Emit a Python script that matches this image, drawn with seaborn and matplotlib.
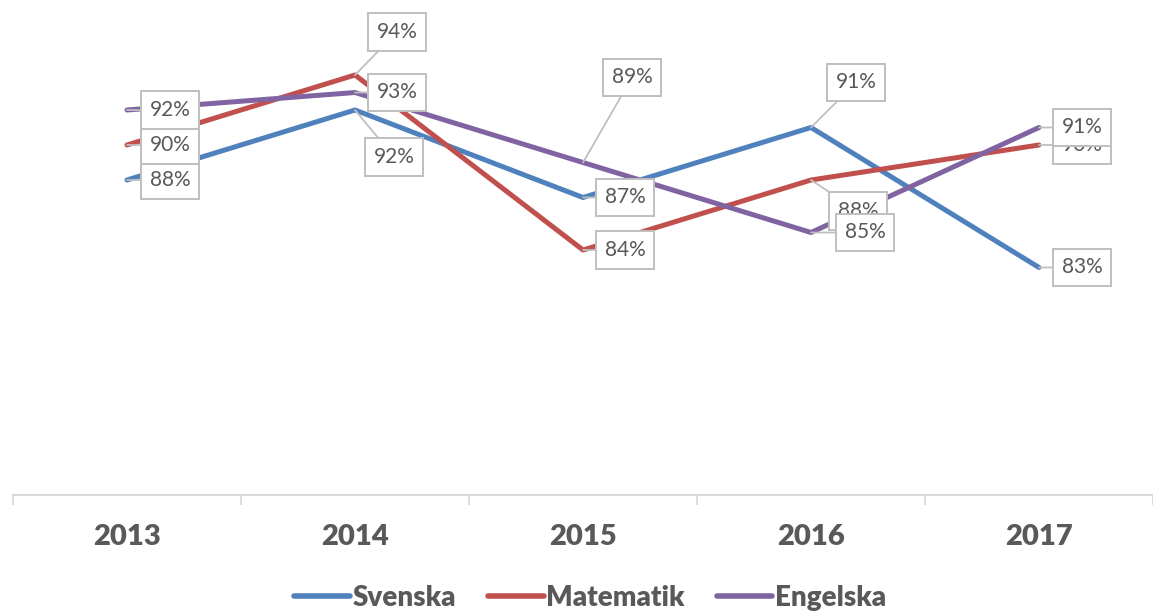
import matplotlib
matplotlib.use('Agg')
import matplotlib.pyplot as plt
import seaborn as sns
import pandas as pd

sns.set_theme(style="white")
plt.rcParams['font.family'] = ['Lato', 'DejaVu Sans']

# --- data ---
years = ["2013", "2014", "2015", "2016", "2017"]
svenska = [88, 92, 87, 91, 83]
matematik = [90, 94, 84, 88, 90]
engelska = [92, 93, 89, 85, 91]

series_names = ["Svenska", "Matematik", "Engelska"]
series_vals = [svenska, matematik, engelska]
palette = {"Svenska": "#4f81bd", "Matematik": "#c0504d", "Engelska": "#8064a2"}

# label box offsets (pixels, from the data point) per series and year
label_offsets = {
    "Svenska":   [(43, 0), (39, -47), (42, 0), (45, 45), (43, 0)],
    "Matematik": [(43, 0), (42, 43), (42, 0), (47, -31), (43, 0)],
    "Engelska":  [(43, 0), (42, 0), (49, 85), (54, 0), (43, 0)],
}

df = pd.DataFrame({
    "Year": years * len(series_names),
    "Value": svenska + matematik + engelska,
    "Subject": [s for s in series_names for _ in years],
})

fig = plt.figure(figsize=(11.53, 6.11), dpi=100)
ax = fig.add_axes([13 / 1153, 116 / 611, 1140 / 1153, 495 / 611])

sns.lineplot(data=df, x="Year", y="Value", hue="Subject", palette=palette,
             hue_order=series_names, sort=False, linewidth=3.6, ax=ax,
             solid_capstyle='round')

ax.set_xlim(-0.5, 4.46)
ax.set_ylim(70, 70 + 495 / 17.5)

# axes styling: only a light bottom axis, with ticks between categories
for side in ["left", "right", "top"]:
    ax.spines[side].set_visible(False)
ax.spines["bottom"].set_color("#d9d9d9")
ax.spines["bottom"].set_linewidth(1.5)
ax.set_yticks([])
ax.set_xlabel("")
ax.set_ylabel("")
ax.set_xticks(range(len(years)))
ax.set_xticklabels(years, fontsize=21, fontweight='heavy', color='#595959')
ax.tick_params(axis='x', which='major', bottom=True, length=0, pad=21)
ax.set_xticks([i - 0.5 for i in range(len(years) + 1)], minor=True)
ax.tick_params(axis='x', which='minor', bottom=True, length=7, width=1.3,
               color='#d9d9d9', direction='out')

# callout data labels
for z, (name, vals) in enumerate(zip(series_names, series_vals)):
    for i, v in enumerate(vals):
        dx, dy = label_offsets[name][i]
        ax.annotate(f"{v}%", xy=(i, v), xytext=(dx, dy), textcoords='offset pixels',
                    ha='center', va='center', fontsize=15, color='#595959',
                    zorder=10 + z,
                    bbox=dict(boxstyle='square,pad=0.42', fc='white', ec='#bfbfbf', lw=1.4),
                    arrowprops=dict(arrowstyle='-', color='#bfbfbf', lw=1.3,
                                    shrinkA=0, shrinkB=0))

leg = ax.get_legend()
handles = leg.legend_handles
leg.remove()
fig.legend(handles, series_names, loc='center', bbox_to_anchor=(0.512, 0.022), ncol=3,
           frameon=False, handlelength=2.0, handletextpad=0.1, columnspacing=1.15,
           prop={'size': 20, 'weight': 'heavy'}, labelcolor='#595959')
for h in fig.legends[0].legend_handles:
    h.set_linewidth(4)

fig.savefig("out.png", dpi=100)
